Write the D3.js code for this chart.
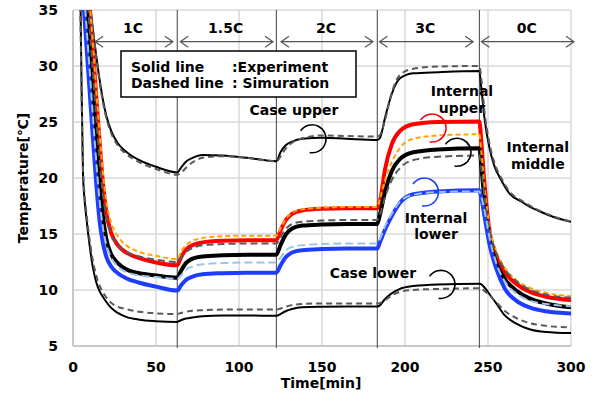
<!DOCTYPE html>
<html>
<head>
<meta charset="utf-8">
<script src="https://cdn.jsdelivr.net/npm/d3@7"></script>
<style>
  body { margin: 0; background: #fff; }
  text { font-family: "DejaVu Sans", Verdana, sans-serif; font-weight: bold; fill: #000; }
</style>
</head>
<body>
<div id="chart"></div>
<script>
// ---- data: time [min] vs temperature [degC] ----
const phaseNames = ["1C", "1.5C", "2C", "3C", "0C"];
const phaseEdges = [62.8, 122.5, 183.3, 244.8]; // minutes where the C-rate changes
const phaseArrows = [[13.3, 60.2], [64.6, 120.5], [125.3, 180.7], [184.6, 241.1], [246, 301.8]];
const xTicks = [0, 50, 100, 150, 200, 250, 300];
const yTicks = [5, 10, 15, 20, 25, 30, 35];

const caseUpperExp = [[0,48],[4,44],[6,41.5],[8,38.5],[10,35.6],[12,33.2],[14,30.9],[16,28.8],[18,27.0],[20,25.6],[23,24.2],[27,23.1],[32,22.35],[40,21.6],[50,21.0],[62.8,20.5],
  [65,20.9],[68,21.45],[72,21.8],[78,22.05],[90,22.0],[105,21.8],[122.5,21.5],
  [125,22.3],[128,22.9],[132,23.25],[138,23.5],[150,23.6],[165,23.5],[183.3,23.4],
  [185,23.6],[188,25.4],[192,27.5],[197,28.9],[205,29.35],[220,29.45],[244.8,29.55],
  [246,28.0],[248,25.2],[251,22.6],[254,21.0],[258,19.8],[263,18.6],[270,17.9],[275,17.45],[280,17.1],[290,16.5],[300,16.1]];
const caseUpperSim = [[0,48],[4,44.5],[6,42],[8,39],[10,36],[12,33.3],[14,30.8],[16,28.6],[18,26.8],[20,25.4],[23,24.0],[27,22.9],[32,22.15],[40,21.4],[50,20.8],[62.8,20.3],
  [65,20.45],[68,20.9],[72,21.4],[78,21.8],[90,21.95],[105,21.8],[122.5,21.5],
  [125,21.9],[128,22.6],[132,23.15],[138,23.55],[150,23.8],[165,23.75],[183.3,23.7],
  [185,23.85],[188,25.2],[192,27.6],[197,29.2],[205,29.75],[220,29.95],[244.8,30.0],
  [246,28.8],[248,25.8],[251,23.0],[254,21.3],[258,20.0],[263,18.8],[270,18.0],[275,17.55],[280,17.15],[290,16.55],[300,16.1]];
const internalUpperExp = [[0,52],[4,46.5],[6,43],[8,39.5],[10,35.4],[12,31.5],[14,27.3],[16,23.3],[18,19.6],[20,17.0],[23,15.1],[27,14.0],[32,13.35],[40,12.85],[50,12.45],[62.8,12.2],
  [65,12.9],[68,13.6],[72,14.0],[78,14.25],[90,14.4],[105,14.45],[122.5,14.45],
  [125,15.3],[128,16.2],[132,16.8],[138,17.1],[150,17.25],[165,17.3],[183.3,17.3],
  [185,18.0],[188,20.8],[192,23.0],[197,24.2],[205,24.8],[220,25.0],[244.8,25.05],
  [246,23.2],[248,19.3],[251,15.2],[255,13.0],[260,11.6],[267,10.55],[275,9.85],[285,9.4],[300,9.1]];
const internalUpperSim = [[0,52],[4,46.5],[6,43.2],[8,39.8],[10,35.8],[12,31.9],[14,27.9],[16,24.0],[18,20.5],[20,18.0],[23,16.0],[27,14.8],[32,14.0],[40,13.4],[50,13.05],[62.8,12.75],
  [65,13.4],[68,14.0],[72,14.4],[78,14.65],[90,14.8],[105,14.85],[122.5,14.85],
  [125,15.5],[128,16.3],[132,16.9],[138,17.2],[150,17.35],[165,17.4],[183.3,17.4],
  [185,18.2],[188,19.8],[192,21.4],[197,22.7],[205,23.5],[220,23.8],[244.8,23.9],
  [246,22.3],[248,19.0],[251,15.6],[255,13.5],[260,12.0],[267,10.9],[275,10.2],[285,9.75],[300,9.45]];
const internalMiddleExp = [[0,50],[4,43.5],[6,39.5],[8,35.4],[10,31.5],[12,27.5],[14,23.5],[16,19.8],[18,16.6],[20,14.6],[23,13.2],[27,12.4],[32,11.85],[40,11.5],[50,11.3],[62.8,11.1],
  [65,11.7],[68,12.4],[72,12.8],[78,13.0],[90,13.1],[105,13.15],[122.5,13.15],
  [125,14.0],[128,14.9],[132,15.5],[138,15.75],[150,15.85],[165,15.9],[183.3,15.9],
  [185,16.8],[188,18.8],[192,20.6],[197,21.7],[205,22.3],[220,22.55],[244.8,22.65],
  [246,21.0],[248,17.8],[251,14.5],[255,12.4],[260,11.0],[267,9.95],[275,9.25],[285,8.8],[300,8.45]];
const internalMiddleSim = [[0,50],[4,44.5],[6,41],[8,37.3],[10,33.4],[12,29.4],[14,25.4],[16,21.6],[18,18.6],[20,16.6],[23,15.0],[27,14.0],[32,13.4],[40,13.0],[50,12.7],[62.8,12.5],
  [65,12.9],[68,13.4],[72,13.75],[78,14.0],[90,14.1],[105,14.15],[122.5,14.15],
  [125,14.7],[128,15.4],[132,15.9],[138,16.1],[150,16.2],[165,16.25],[183.3,16.25],
  [185,16.8],[188,18.3],[192,19.8],[197,20.9],[205,21.6],[220,21.9],[244.8,22.0],
  [246,20.8],[248,18.2],[251,15.3],[255,13.3],[260,11.9],[267,10.8],[275,10.05],[285,9.6],[300,9.3]];
const internalLowerExp = [[0,48],[4,40.5],[6,36.3],[8,32.0],[10,27.8],[12,23.5],[14,19.5],[16,16.2],[18,14.2],[20,13.0],[23,12.1],[27,11.5],[32,11.05],[40,10.65],[50,10.3],[62.8,9.95],
  [65,10.4],[68,10.9],[72,11.2],[78,11.4],[90,11.5],[105,11.55],[122.5,11.55],
  [125,12.2],[128,12.9],[132,13.35],[138,13.55],[150,13.65],[165,13.7],[183.3,13.7],
  [185,14.3],[188,15.4],[192,16.6],[197,17.8],[205,18.55],[220,18.8],[244.8,18.9],
  [246,18.2],[248,16.5],[251,14.0],[255,11.9],[260,10.15],[267,9.05],[275,8.45],[285,8.1],[300,7.9]];
const internalLowerSim = [[0,49],[4,42],[6,38],[8,33.8],[10,29.7],[12,25.5],[14,21.5],[16,18.0],[18,15.6],[20,14.1],[23,12.9],[27,12.1],[32,11.6],[40,11.3],[50,11.15],[62.8,11.0],
  [65,11.3],[68,11.8],[72,12.1],[78,12.3],[90,12.4],[105,12.45],[122.5,12.45],
  [125,12.9],[128,13.5],[132,13.85],[138,14.0],[150,14.1],[165,14.15],[183.3,14.15],
  [185,14.6],[188,15.7],[192,16.8],[197,17.9],[205,18.5],[220,18.75],[244.8,18.8],
  [246,18.3],[248,17.0],[251,14.6],[255,12.4],[260,10.8],[267,9.7],[275,9.05],[285,8.75],[300,8.55]];
const caseLowerExp = [[0,80],[2,60],[4,42],[5,30],[6,20.5],[7,18.0],[8,16.5],[10,14.0],[12,12.0],[14,10.7],[16,9.9],[18,9.4],[20,8.95],[23,8.4],[27,7.95],[32,7.6],[40,7.35],[50,7.22],[62.8,7.15],
  [65,7.3],[68,7.45],[72,7.55],[78,7.65],[90,7.72],[105,7.72],[122.5,7.7],
  [125,7.85],[128,8.1],[132,8.3],[138,8.45],[150,8.5],[165,8.52],[183.3,8.52],
  [185,8.65],[188,9.2],[192,9.7],[197,10.1],[205,10.35],[220,10.5],[244.8,10.55],
  [246,10.5],[248,10.2],[251,9.6],[255,8.8],[260,7.75],[267,7.0],[275,6.5],[285,6.25],[300,6.15]];
const caseLowerSim = [[0,80],[2,60],[4,40],[5,29],[6,21],[7,18.5],[8,17],[10,14.5],[12,12.6],[14,11.3],[16,10.4],[18,9.8],[20,9.35],[23,8.85],[27,8.5],[32,8.3],[40,8.05],[50,7.92],[62.8,7.85],
  [65,7.95],[68,8.05],[72,8.15],[78,8.2],[90,8.25],[105,8.25],[122.5,8.25],
  [125,8.35],[128,8.5],[132,8.65],[138,8.75],[150,8.8],[165,8.8],[183.3,8.8],
  [185,8.85],[188,9.1],[192,9.5],[197,9.85],[205,10.0],[220,10.1],[244.8,10.15],
  [246,10.1],[248,9.9],[251,9.5],[255,8.9],[260,8.15],[267,7.5],[275,7.05],[285,6.8],[300,6.65]];

// label positions (minutes, degC) and the little circle-arc markers
const labelNotes = [
  { lines: ["Case upper"], t: 133.1, T: 25.63 },
  { lines: ["Internal", "upper"], t: 234.3, T: 27.32 },
  { lines: ["Internal", "middle"], t: 280, T: 22.32 },
  { lines: ["Internal", "lower"], t: 218.7, T: 16.02 },
  { lines: ["Case lower"], t: 180.7, T: 11.07 }
];
const arcNotes = [
  { t: 144, T: 23.5, color: "#000" },
  { t: 216.3, T: 24.46, color: "#ff0000" },
  { t: 231.3, T: 22.3, color: "#000" },
  { t: 211.7, T: 18.75, color: "#1f3dff" },
  { t: 221.7, T: 10.5, color: "#000" }
];

// ---- layout ----
const width = 595;
const height = 405;
const margin = { left: 73, right: 24, top: 10, bottom: 59 };

const x = d3.scaleLinear().domain([0, 300]).range([margin.left, width - margin.right]);
const y = d3.scaleLinear().domain([5, 35]).range([height - margin.bottom, margin.top]);

const svg = d3.select("#chart").append("svg")
  .attr("width", width)
  .attr("height", height);

svg.append("defs").append("clipPath").attr("id", "plot-clip")
  .append("rect")
  .attr("x", x(0)).attr("y", y(35))
  .attr("width", x(300) - x(0)).attr("height", y(5) - y(35));

// grid
svg.append("g").selectAll("line.vgrid")
  .data(xTicks).enter().append("line")
  .attr("x1", (d) => x(d)).attr("x2", (d) => x(d))
  .attr("y1", y(35)).attr("y2", y(5))
  .attr("stroke", "#d9d9d9").attr("stroke-width", 1.5);

svg.append("g").selectAll("line.hgrid")
  .data(yTicks).enter().append("line")
  .attr("x1", x(0)).attr("x2", x(300))
  .attr("y1", (d) => y(d)).attr("y2", (d) => y(d))
  .attr("stroke", "#d9d9d9").attr("stroke-width", 1.5);

// axis lines
svg.append("line").attr("x1", x(0)).attr("x2", x(0)).attr("y1", y(35)).attr("y2", y(5))
  .attr("stroke", "#bfbfbf").attr("stroke-width", 1.5);
svg.append("line").attr("x1", x(0)).attr("x2", x(300)).attr("y1", y(5)).attr("y2", y(5))
  .attr("stroke", "#bfbfbf").attr("stroke-width", 1.5);

// tick labels
svg.append("g").selectAll("text.xtick")
  .data(xTicks).enter().append("text")
  .attr("x", (d) => x(d)).attr("y", y(5) + 26)
  .attr("text-anchor", "middle")
  .style("font-size", "14px")
  .text((d) => d);

svg.append("g").selectAll("text.ytick")
  .data(yTicks).enter().append("text")
  .attr("x", x(0) - 15).attr("y", (d) => y(d) + 5)
  .attr("text-anchor", "end")
  .style("font-size", "14px")
  .text((d) => d);

svg.append("text")
  .attr("x", x(150) - 1).attr("y", 388)
  .attr("text-anchor", "middle")
  .style("font-size", "14px")
  .text("Time[min]");

svg.append("text")
  .attr("transform", `translate(28, ${(y(5) + y(35)) / 2}) rotate(-90)`)
  .attr("text-anchor", "middle")
  .style("font-size", "14px")
  .text("Temperature[℃]");

// phase boundaries
svg.append("g").selectAll("line.phase")
  .data(phaseEdges).enter().append("line")
  .attr("x1", (d) => x(d)).attr("x2", (d) => x(d))
  .attr("y1", y(35)).attr("y2", y(5) + 2)
  .attr("stroke", "#404040").attr("stroke-width", 1);

// ---- curves ----
const line = d3.line()
  .x((d) => x(d[0]))
  .y((d) => y(d[1]))
  .curve(d3.curveMonotoneX);

const series = [
  { data: caseUpperExp, color: "#000", w: 2 },
  { data: caseLowerExp, color: "#000", w: 2 },
  { data: internalUpperExp, color: "#ff0000", w: 4 },
  { data: internalMiddleExp, color: "#000", w: 4 },
  { data: internalLowerExp, color: "#1f3dff", w: 4 },
  { data: caseUpperSim, color: "#595959", w: 2, dash: "6,4" },
  { data: caseLowerSim, color: "#595959", w: 2, dash: "6,4" },
  { data: internalUpperSim, color: "#ffa500", w: 2, dash: "5,3" },
  { data: internalMiddleSim, color: "#595959", w: 2, dash: "7,4" },
  { data: internalLowerSim, color: "#9dc3e6", w: 2, dash: "8,4" }
];

svg.append("g")
  .attr("clip-path", "url(#plot-clip)")
  .selectAll("path")
  .data(series).enter().append("path")
  .attr("d", (d) => line(d.data))
  .attr("fill", "none")
  .attr("stroke", (d) => d.color)
  .attr("stroke-width", (d) => d.w)
  .attr("stroke-dasharray", (d) => d.dash || null)
  .attr("stroke-linejoin", "round");

// ---- phase arrows + labels ----
const arrowY = 41.7;
const head = 8, wing = 5.5;
const arrows = svg.append("g");
phaseArrows.forEach(([a, b], i) => {
  const x0 = x(a), x1 = x(b);
  arrows.append("path")
    .attr("d", `M${x0},${arrowY}H${x1}` +
      `M${x0 + head},${arrowY - wing}L${x0},${arrowY}L${x0 + head},${arrowY + wing}` +
      `M${x1 - head},${arrowY - wing}L${x1},${arrowY}L${x1 - head},${arrowY + wing}`)
    .attr("fill", "none")
    .attr("stroke", "#555")
    .attr("stroke-width", 1.2);
  arrows.append("text")
    .attr("x", (x0 + x1) / 2 - 1)
    .attr("y", 32.5)
    .attr("text-anchor", "middle")
    .style("font-size", "14px")
    .text(phaseNames[i]);
});

// ---- legend box ----
svg.append("rect")
  .attr("x", 121).attr("y", 51).attr("width", 235).attr("height", 46)
  .attr("fill", "#fff").attr("stroke", "#000").attr("stroke-width", 1.5);

const legendRows = [["Solid line", ":Experiment"], ["Dashed line", ": Simuration"]];
legendRows.forEach((r, i) => {
  svg.append("text").attr("x", 131).attr("y", 71.5 + i * 16.5)
    .style("font-size", "14px").text(r[0]);
  svg.append("text").attr("x", 232).attr("y", 71.5 + i * 16.5)
    .style("font-size", "14px").text(r[1]);
});

// ---- curve annotations ----
labelNotes.forEach((n) => {
  n.lines.forEach((s, k) => {
    svg.append("text")
      .attr("x", x(n.t)).attr("y", y(n.T) + k * 16.5)
      .attr("text-anchor", "middle")
      .style("font-size", "14px")
      .text(s);
  });
});

const arcR = 14;
const rad = Math.PI / 180;
svg.append("g").selectAll("path")
  .data(arcNotes).enter().append("path")
  .attr("d", (d) => {
    const p = d3.path();
    const cx = x(d.t), cy = y(d.T);
    p.moveTo(cx + arcR * Math.cos(-145 * rad), cy + arcR * Math.sin(-145 * rad));
    p.arc(cx, cy, arcR, -145 * rad, 100 * rad);
    return p.toString();
  })
  .attr("fill", "none")
  .attr("stroke", (d) => d.color)
  .attr("stroke-width", 1.5);
</script>
</body>
</html>
